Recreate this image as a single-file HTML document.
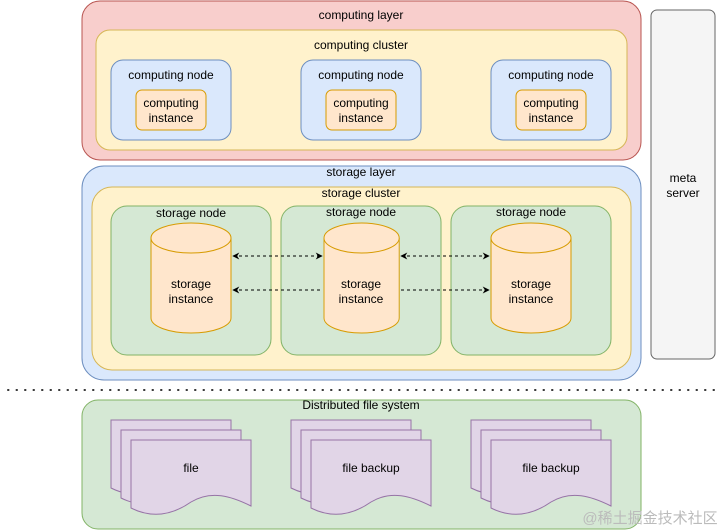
<!DOCTYPE html>
<html><head><meta charset="utf-8"><style>
html,body{margin:0;padding:0;background:#fff;}
svg{display:block;font-family:"Liberation Sans",Arial,sans-serif;font-size:12px;}
text{fill:#000;text-anchor:middle;}
</style></head><body>
<svg width="723" height="531" viewBox="0 0 723 531" xmlns="http://www.w3.org/2000/svg">
<defs>
<marker id="ar" viewBox="0 0 10 10" refX="9" refY="5" markerWidth="7" markerHeight="7" orient="auto-start-reverse"><path d="M0,0 L10,5 L0,10 L3,5 Z" fill="#000"/></marker>
<g id="doc"><path d="M0,0 H120 V66 C100,56 80,50 60,62 C40,76 20,78 0,68 Z" fill="#e1d5e7" stroke="#9673a6"/></g>
<g id="cyl">
<path d="M0,15 V95 A40,15 0 0 0 80,95 V15" fill="#ffe6cc" stroke="#d79b00"/>
<ellipse cx="40" cy="15" rx="40" ry="15" fill="#ffe6cc" stroke="#d79b00"/>
</g>
</defs>
<rect x="82" y="1" width="559" height="159" rx="18" fill="#f8cecc" stroke="#b85450"/>
<text x="361" y="19">computing layer</text>
<rect x="96" y="30" width="531" height="120" rx="14" fill="#fff2cc" stroke="#d6b656"/>
<text x="361" y="49">computing cluster</text>
<g>
<rect x="111" y="60" width="120" height="80" rx="12" fill="#dae8fc" stroke="#6c8ebf"/>
<text x="171" y="79">computing node</text>
<rect x="136" y="90" width="70" height="40" rx="6" fill="#ffe6cc" stroke="#d79b00"/>
<text x="171" y="107">computing</text><text x="171" y="122">instance</text>
<rect x="301" y="60" width="120" height="80" rx="12" fill="#dae8fc" stroke="#6c8ebf"/>
<text x="361" y="79">computing node</text>
<rect x="326" y="90" width="70" height="40" rx="6" fill="#ffe6cc" stroke="#d79b00"/>
<text x="361" y="107">computing</text><text x="361" y="122">instance</text>
<rect x="491" y="60" width="120" height="80" rx="12" fill="#dae8fc" stroke="#6c8ebf"/>
<text x="551" y="79">computing node</text>
<rect x="516" y="90" width="70" height="40" rx="6" fill="#ffe6cc" stroke="#d79b00"/>
<text x="551" y="107">computing</text><text x="551" y="122">instance</text>
</g>
<rect x="82" y="166" width="559" height="214" rx="22" fill="#dae8fc" stroke="#6c8ebf"/>
<text x="361" y="176">storage layer</text>
<rect x="92" y="187" width="539" height="183" rx="20" fill="#fff2cc" stroke="#d6b656"/>
<text x="361" y="197">storage cluster</text>
<rect x="111" y="206" width="160" height="149" rx="16" fill="#d5e8d4" stroke="#82b366"/>
<text x="191" y="217">storage node</text>
<rect x="281" y="206" width="160" height="149" rx="16" fill="#d5e8d4" stroke="#82b366"/>
<text x="361" y="216">storage node</text>
<rect x="451" y="206" width="160" height="149" rx="16" fill="#d5e8d4" stroke="#82b366"/>
<text x="531" y="216">storage node</text>
<use href="#cyl" x="151" y="223"/>
<use href="#cyl" x="324" y="223" transform="translate(324,223) scale(0.94,1) translate(-324,-223)"/>
<use href="#cyl" x="491" y="223"/>
<text x="191" y="288">storage</text><text x="191" y="303">instance</text>
<text x="361" y="288">storage</text><text x="361" y="303">instance</text>
<text x="531" y="288">storage</text><text x="531" y="303">instance</text>
<g stroke="#000" stroke-dasharray="3,3" fill="none">
<line x1="233" y1="256" x2="322" y2="256" marker-start="url(#ar)" marker-end="url(#ar)"/>
<line x1="233" y1="290" x2="322" y2="290" marker-start="url(#ar)"/>
<line x1="401" y1="256" x2="489" y2="256" marker-start="url(#ar)" marker-end="url(#ar)"/>
<line x1="401" y1="290" x2="489" y2="290" marker-end="url(#ar)"/>
</g>
<rect x="651" y="10" width="64" height="349" rx="6" fill="#f5f5f5" stroke="#666"/>
<text x="683" y="182">meta</text><text x="683" y="197">server</text>
<line x1="8" y1="390" x2="716" y2="390" stroke="#333" stroke-width="2" stroke-dasharray="0.5,8" stroke-linecap="round"/>
<rect x="82" y="400" width="559" height="129" rx="16" fill="#d5e8d4" stroke="#82b366"/>
<text x="361" y="409">Distributed file system</text>
<use href="#doc" x="111" y="420"/><use href="#doc" x="121" y="430"/><use href="#doc" x="131" y="440"/>
<use href="#doc" x="291" y="420"/><use href="#doc" x="301" y="430"/><use href="#doc" x="311" y="440"/>
<use href="#doc" x="471" y="420"/><use href="#doc" x="481" y="430"/><use href="#doc" x="491" y="440"/>
<text x="191" y="472">file</text>
<text x="371" y="472">file backup</text>
<text x="551" y="472">file backup</text>
<text x="650" y="523" style="font-family:'Liberation Sans','Noto Sans CJK SC',sans-serif;font-size:15px;fill:#bbb">@稀土掘金技术社区</text>
</svg>
</body></html>
